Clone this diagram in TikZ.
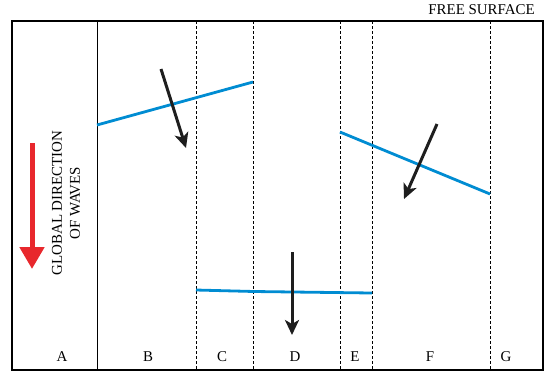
\documentclass[tikz,border=0pt]{standalone}
\usepackage{fontspec}
\setmainfont{Liberation Serif}
\usepackage{xcolor}
\usetikzlibrary{calc, arrows.meta, positioning}

\definecolor{waveblue}{RGB}{0,140,210}
\definecolor{globalred}{RGB}{232,40,45}
\definecolor{arrowblack}{RGB}{30,30,30}

\tikzset{
    zoneline/.style={line width=0.7bp, dash pattern=on 3bp off 2bp},
    crest/.style={waveblue, line width=2.8bp},
    localray/.style={arrowblack, line width=3bp, -{Stealth[length=15bp, width=14bp, inset=4bp]}},
    zonelabel/.style={font=\fontsize{15}{17}\selectfont, inner sep=0pt}
}

\begin{document}
\begin{tikzpicture}[x=1bp, y=-1bp]

    % =================================================================
    % 1. KHUNG VÀ CÁC ĐIỂM CHÍNH
    % =================================================================
    \useasboundingbox (0,0) rectangle (545,374);
    \coordinate (TL) at (12,21);
    \coordinate (BR) at (543,370);

    % Mặt thoáng
    \node[anchor=base east, font=\fontsize{15}{17}\selectfont, inner sep=0pt] (surface) at (535,14) {FREE SURFACE};

    % Khung ngoài
    \draw[line width=1.1bp] (TL) rectangle (BR);

    % =================================================================
    % 2. CÁC ĐƯỜNG CHIA VÙNG
    % =================================================================
    \draw[line width=0.8bp] (97,21) -- (97,370);
    \foreach \x in {196, 253, 340, 372, 490} {
        \draw[zoneline] (\x,21) -- (\x,370);
    }

    % Nhãn các vùng
    \foreach \x/\lab in {62/A, 148/B, 222/C, 295/D, 355/E, 430/F, 506/G} {
        \node[zonelabel, anchor=base] (zone\lab) at (\x,361) {\lab};
    }

    % =================================================================
    % 3. HƯỚNG SÓNG TỔNG QUÁT
    % =================================================================
    \coordinate (RedTop) at (32,143);
    \coordinate (RedTip) at (32,269);
    \draw[globalred, line width=5bp, -{Triangle[length=22bp, width=24bp]}] (RedTop) -- (RedTip);

    \node[rotate=90, align=center, font=\fontsize{15}{18}\selectfont, inner sep=0pt] (global) at (66,203)
        {GLOBAL DIRECTION\\OF WAVES};

    % =================================================================
    % 4. ĐỈNH SÓNG VÀ TIA SÓNG CỤC BỘ
    % =================================================================
    \coordinate (B1) at (97,125);
    \coordinate (B2) at (253,82);
    \coordinate (F1) at (340,132);
    \coordinate (F2) at (490,194);
    \coordinate (D1) at (196,290);
    \coordinate (D2) at (372,293);

    \draw[crest] (B1) -- (B2);
    \draw[crest] (F1) -- (F2);
    \draw[crest] (D1) -- (254,291.5) -- (D2);

    \coordinate (RayB) at (161,69);
    \coordinate (RayBend) at (186,148);
    \coordinate (RayF) at (437,124);
    \coordinate (RayFend) at (404,199);
    \coordinate (RayD) at (292,252);
    \coordinate (RayDend) at (292,335);

    \draw[localray] (RayB) -- (RayBend);
    \draw[localray] (RayF) -- (RayFend);
    \draw[localray] (RayD) -- (RayDend);

\end{tikzpicture}
\end{document}
